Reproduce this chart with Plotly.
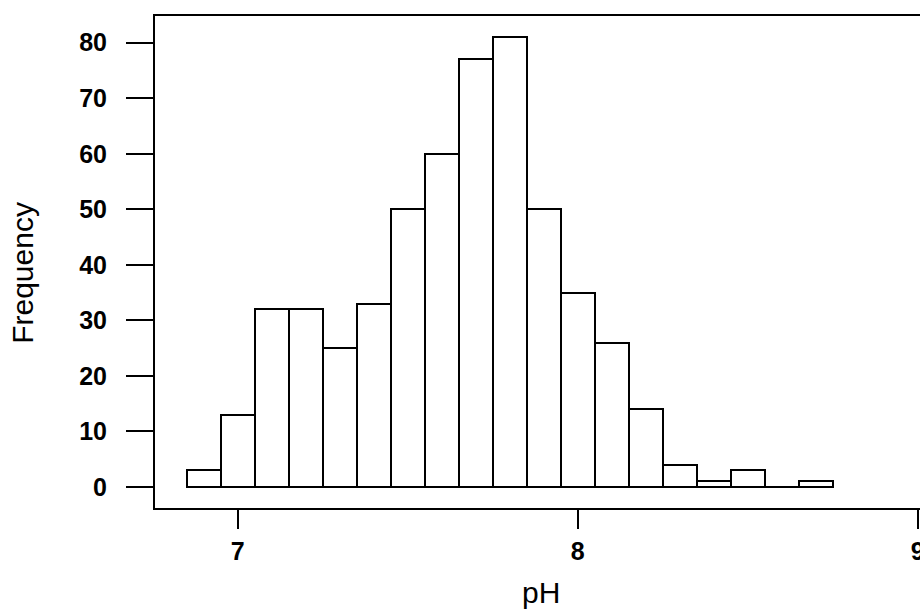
import plotly.graph_objects as go

# Histogram data (bin width 0.1)
bin_starts = [6.85, 6.95, 7.05, 7.15, 7.25, 7.35, 7.45, 7.55, 7.65, 7.75,
              7.85, 7.95, 8.05, 8.15, 8.25, 8.35, 8.45, 8.55, 8.65]
counts = [3, 13, 32, 32, 25, 33, 50, 60, 77, 81,
          50, 35, 26, 14, 4, 1, 3, 0, 1]
bin_width = 0.1
y_ticks = [0, 10, 20, 30, 40, 50, 60, 70, 80]
x_ticks = [7, 8, 9]
x_title = "pH"
y_title = "Frequency"

centers = [s + bin_width / 2 for s in bin_starts]

FONT = "Liberation Sans, Arial, Helvetica, sans-serif"

fig = go.Figure()
fig.add_trace(go.Bar(
    x=centers, y=counts, width=bin_width,
    marker=dict(color="white", line=dict(color="black", width=2)),
    hoverinfo="x+y", showlegend=False,
))

# baseline across all bins (R draws zero-height rectangles as a line)
fig.add_shape(type="line", xref="x", yref="y",
              x0=bin_starts[0], x1=bin_starts[-1] + bin_width, y0=0, y1=0,
              line=dict(color="black", width=2), layer="above")

fig.update_layout(
    width=920, height=610,
    margin=dict(l=155, r=0, t=16, b=102, autoexpand=False),
    paper_bgcolor="white", plot_bgcolor="white",
    bargap=0,
    font=dict(family=FONT, color="black"),
    xaxis=dict(
        range=[6.757, 9.0068], tickvals=x_ticks, ticktext=[str(v) for v in x_ticks],
        showgrid=False, zeroline=False, automargin=False,
        showline=True, linecolor="black", linewidth=2, mirror=True,
        ticks="outside", ticklen=19, tickwidth=2, tickcolor="black",
        tickfont=dict(family=FONT, size=25, color="black", weight="bold"),
        ticklabelstandoff=1, ticklabeloverflow="allow",
    ),
    yaxis=dict(
        range=[-3.78, 84.81], tickvals=y_ticks, ticktext=[str(v) for v in y_ticks],
        showgrid=False, zeroline=False, automargin=False,
        showline=True, linecolor="black", linewidth=2, mirror=False,
        ticks="outside", ticklen=27, tickwidth=2, tickcolor="black",
        tickfont=dict(family=FONT, size=25, color="black", weight="bold"),
        ticklabelstandoff=14,
    ),
    annotations=[
        dict(text=x_title, xref="paper", yref="paper", x=0.5052, y=-0.1715,
             xanchor="center", yanchor="middle", showarrow=False,
             font=dict(family=FONT, size=30, color="black")),
        dict(text=y_title, xref="paper", yref="paper", x=-0.1725, y=0.478,
             xanchor="center", yanchor="middle", showarrow=False, textangle=-90,
             font=dict(family=FONT, size=30, color="black")),
    ],
)

fig.write_html("out.html")
